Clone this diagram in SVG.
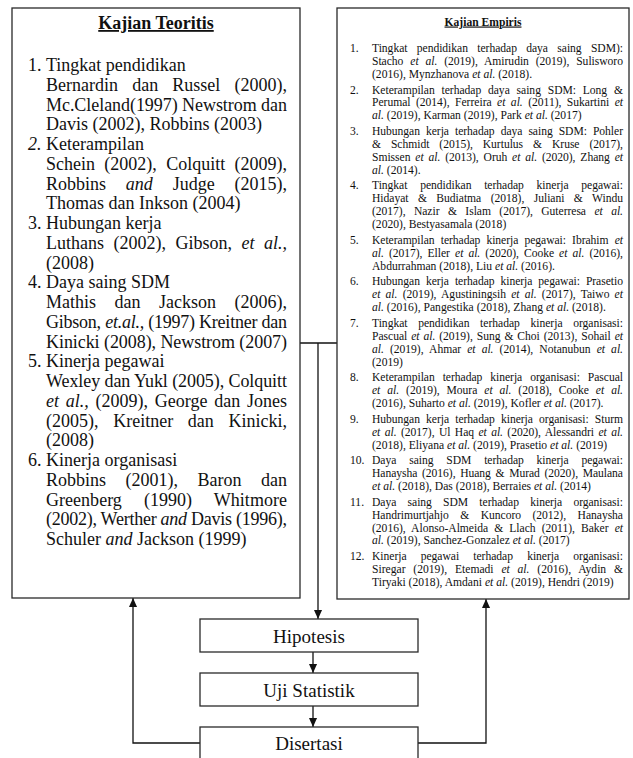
<svg xmlns="http://www.w3.org/2000/svg" width="633" height="758" viewBox="0 0 633 758">
<defs>
<style>
.box{fill:#fff;stroke:#2a2a2a;stroke-width:1.3}
.tl{font-family:"Liberation Serif","Times New Roman",serif;font-size:18px;fill:#111}
.tr{font-family:"Liberation Serif","Times New Roman",serif;font-size:11.6px;fill:#111}
.tf{font-family:"Liberation Serif","Times New Roman",serif;font-size:19px;fill:#111;text-anchor:middle}
.i{font-style:italic}
.hd{font-weight:bold;text-decoration:underline;text-anchor:middle}
.ln{fill:none;stroke:#111;stroke-width:1.3}
</style>
<marker id="arr" viewBox="0 0 10 10" refX="10" refY="5" markerWidth="9" markerHeight="9" markerUnits="userSpaceOnUse" orient="auto"><path d="M0,0.5 L10,5 L0,9.5 z" fill="#111"/></marker>
</defs>
<rect width="633" height="758" fill="#fff"/>

<g id="connectors">
<path class="ln" d="M300,343 H337"/>
<path class="ln" d="M318,343 V619" marker-end="url(#arr)"/>
<path class="ln" d="M313,652 V673" marker-end="url(#arr)"/>
<path class="ln" d="M313,706 V727" marker-end="url(#arr)"/>
<path class="ln" d="M200,743 H133 V598" marker-end="url(#arr)"/>
<path class="ln" d="M418,743 H486 V599" marker-end="url(#arr)"/>
</g>

<g id="node-kajian-teoritis">
<rect class="box" x="12" y="8" width="288" height="590"/>
<text class="tl hd" x="156" y="29">Kajian Teoritis</text>
<text class="tl" y="71"><tspan x="28">1.</tspan><tspan x="46">Tingkat pendidikan</tspan></text>
<text class="tl" x="46" y="90.75" textLength="241" lengthAdjust="spacing" word-spacing="9.7">Bernardin dan Russel (2000),</text>
<text class="tl" x="46" y="110.5" textLength="241" lengthAdjust="spacing">Mc.Cleland(1997) Newstrom dan</text>
<text class="tl" x="46" y="130.25">Davis (2002), Robbins (2003)</text>
<text class="tl" y="150"><tspan x="28" class="i">2.</tspan><tspan x="46">Keterampilan</tspan></text>
<text class="tl" x="46" y="169.75" textLength="241" lengthAdjust="spacing" word-spacing="4.8">Schein (2002), Colquitt (2009),</text>
<text class="tl" x="46" y="189.5" textLength="241" lengthAdjust="spacing" word-spacing="15.3">Robbins <tspan class="i">and</tspan> Judge (2015),</text>
<text class="tl" x="46" y="209.25">Thomas dan Inkson (2004)</text>
<text class="tl" y="229"><tspan x="28">3.</tspan><tspan x="46">Hubungan kerja</tspan></text>
<text class="tl" x="46" y="248.75" textLength="241" lengthAdjust="spacing" word-spacing="5">Luthans (2002), Gibson, <tspan class="i">et al.,</tspan></text>
<text class="tl" x="46" y="268.5">(2008)</text>
<text class="tl" y="288.25"><tspan x="28">4.</tspan><tspan x="46">Daya saing SDM</tspan></text>
<text class="tl" x="46" y="308" textLength="241" lengthAdjust="spacing" word-spacing="14">Mathis dan Jackson (2006),</text>
<text class="tl" x="46" y="327.75" textLength="241" lengthAdjust="spacing">Gibson, <tspan class="i">et.al.,</tspan> (1997) Kreitner dan</text>
<text class="tl" x="46" y="347.5" textLength="241" lengthAdjust="spacing">Kinicki (2008), Newstrom (2007)</text>
<text class="tl" y="367.25"><tspan x="28">5.</tspan><tspan x="46">Kinerja pegawai</tspan></text>
<text class="tl" x="46" y="387" textLength="241" lengthAdjust="spacing">Wexley dan Yukl (2005), Colquitt</text>
<text class="tl" x="46" y="406.75" textLength="241" lengthAdjust="spacing" word-spacing="2.2"><tspan class="i">et al.,</tspan> (2009), George dan Jones</text>
<text class="tl" x="46" y="426.5" textLength="241" lengthAdjust="spacing" word-spacing="10.2">(2005), Kreitner dan Kinicki,</text>
<text class="tl" x="46" y="446.25">(2008)</text>
<text class="tl" y="466"><tspan x="28">6.</tspan><tspan x="46">Kinerja organisasi</tspan></text>
<text class="tl" x="46" y="485.75" textLength="241" lengthAdjust="spacing" word-spacing="15">Robbins (2001), Baron dan</text>
<text class="tl" x="46" y="505.5" textLength="241" lengthAdjust="spacing" word-spacing="17.5">Greenberg (1990) Whitmore</text>
<text class="tl" x="46" y="525.25" textLength="241" lengthAdjust="spacing">(2002), Werther <tspan class="i">and</tspan> Davis (1996),</text>
<text class="tl" x="46" y="545">Schuler <tspan class="i">and</tspan> Jackson (1999)</text>
</g>

<g id="node-kajian-empiris">
<rect class="box" x="337" y="8" width="292" height="591"/>
<text class="tr hd" x="483" y="25.5">Kajian Empiris</text>
<g class="tr">
<text x="350" y="52">1.</text>
<text x="372" y="52" textLength="251" lengthAdjust="spacing" word-spacing="6.4">Tingkat pendidikan terhadap daya saing SDM):</text>
<text x="372" y="64.9" textLength="251" lengthAdjust="spacing" word-spacing="4">Stacho <tspan class="i">et al.</tspan> (2019), Amirudin (2019), Sulisworo</text>
<text x="372" y="77.8">(2016), Mynzhanova <tspan class="i">et al.</tspan> (2018).</text>
<text x="350" y="93.5">2.</text>
<text x="372" y="93.5" textLength="251" lengthAdjust="spacing" word-spacing="4">Keterampilan terhadap daya saing SDM: Long &amp;</text>
<text x="372" y="106.4" textLength="251" lengthAdjust="spacing" word-spacing="2.6">Perumal (2014), Ferreira <tspan class="i">et al.</tspan> (2011), Sukartini <tspan class="i">et</tspan></text>
<text x="372" y="119.3"><tspan class="i">al.</tspan> (2019), Karman (2019), Park <tspan class="i">et al.</tspan> (2017)</text>
<text x="350" y="135">3.</text>
<text x="372" y="135" textLength="251" lengthAdjust="spacing" word-spacing="3.2">Hubungan kerja terhadap daya saing SDM: Pohler</text>
<text x="372" y="147.9" textLength="251" lengthAdjust="spacing" word-spacing="7.1">&amp; Schmidt (2015), Kurtulus &amp; Kruse (2017),</text>
<text x="372" y="160.8" textLength="251" lengthAdjust="spacing" word-spacing="2">Smissen <tspan class="i">et al.</tspan> (2013), Oruh <tspan class="i">et al.</tspan> (2020), Zhang <tspan class="i">et</tspan></text>
<text x="372" y="173.7"><tspan class="i">al.</tspan> (2014).</text>
<text x="350" y="189.4">4.</text>
<text x="372" y="189.4" textLength="251" lengthAdjust="spacing" word-spacing="9.9">Tingkat pendidikan terhadap kinerja pegawai:</text>
<text x="372" y="202.3" textLength="251" lengthAdjust="spacing" word-spacing="6.5">Hidayat &amp; Budiatma (2018), Juliani &amp; Windu</text>
<text x="372" y="215.2" textLength="251" lengthAdjust="spacing" word-spacing="5.6">(2017), Nazir &amp; Islam (2017), Guterresa <tspan class="i">et al.</tspan></text>
<text x="372" y="228.1">(2020), Bestyasamala (2018)</text>
<text x="350" y="243.8">5.</text>
<text x="372" y="243.8" textLength="251" lengthAdjust="spacing" word-spacing="3.3">Keterampilan terhadap kinerja pegawai: Ibrahim <tspan class="i">et</tspan></text>
<text x="372" y="256.7" textLength="251" lengthAdjust="spacing" word-spacing="2.2"><tspan class="i">al.</tspan> (2017), Eller <tspan class="i">et al.</tspan> (2020), Cooke <tspan class="i">et al.</tspan> (2016),</text>
<text x="372" y="269.6">Abdurrahman (2018), Liu <tspan class="i">et al.</tspan> (2016).</text>
<text x="350" y="285.3">6.</text>
<text x="372" y="285.3" textLength="251" lengthAdjust="spacing" word-spacing="3.1">Hubungan kerja terhadap kinerja pegawai: Prasetio</text>
<text x="372" y="298.2" textLength="251" lengthAdjust="spacing" word-spacing="2.3"><tspan class="i">et al.</tspan> (2019), Agustiningsih <tspan class="i">et al.</tspan> (2017), Taiwo <tspan class="i">et</tspan></text>
<text x="372" y="311.1"><tspan class="i">al.</tspan> (2016), Pangestika (2018), Zhang <tspan class="i">et al.</tspan> (2018).</text>
<text x="350" y="326.8">7.</text>
<text x="372" y="326.8" textLength="251" lengthAdjust="spacing" word-spacing="7.8">Tingkat pendidikan terhadap kinerja organisasi:</text>
<text x="372" y="339.7" textLength="251" lengthAdjust="spacing" word-spacing="1.1">Pascual <tspan class="i">et al.</tspan> (2019), Sung &amp; Choi (2013), Sohail <tspan class="i">et</tspan></text>
<text x="372" y="352.6" textLength="251" lengthAdjust="spacing" word-spacing="3.2"><tspan class="i">al.</tspan> (2019), Ahmar <tspan class="i">et al.</tspan> (2014), Notanubun <tspan class="i">et al.</tspan></text>
<text x="372" y="365.5">(2019)</text>
<text x="350" y="381.2">8.</text>
<text x="372" y="381.2" textLength="251" lengthAdjust="spacing" word-spacing="5.1">Keterampilan terhadap kinerja organisasi: Pascual</text>
<text x="372" y="394.1" textLength="251" lengthAdjust="spacing" word-spacing="4.1"><tspan class="i">et al.</tspan> (2019), Moura <tspan class="i">et al.</tspan> (2018), Cooke <tspan class="i">et al.</tspan></text>
<text x="372" y="407">(2016), Suharto <tspan class="i">et al.</tspan> (2019), Kofler <tspan class="i">et al.</tspan> (2017).</text>
<text x="350" y="422.7">9.</text>
<text x="372" y="422.7" textLength="251" lengthAdjust="spacing" word-spacing="3.3">Hubungan kerja terhadap kinerja organisasi: Sturm</text>
<text x="372" y="435.6" textLength="251" lengthAdjust="spacing" word-spacing="1.5"><tspan class="i">et al.</tspan> (2017), Ul Haq <tspan class="i">et al.</tspan> (2020), Alessandri <tspan class="i">et al.</tspan></text>
<text x="372" y="448.5">(2018), Eliyana <tspan class="i">et al.</tspan> (2019), Prasetio <tspan class="i">et al.</tspan> (2019)</text>
<text x="350" y="464.2">10.</text>
<text x="372" y="464.2" textLength="251" lengthAdjust="spacing" word-spacing="10">Daya saing SDM terhadap kinerja pegawai:</text>
<text x="372" y="477.1" textLength="251" lengthAdjust="spacing" word-spacing="1.8">Hanaysha (2016), Huang &amp; Murad (2020), Maulana</text>
<text x="372" y="490"><tspan class="i">et al.</tspan> (2018), Das (2018), Berraies <tspan class="i">et al.</tspan> (2014)</text>
<text x="350" y="505.7">11.</text>
<text x="372" y="505.7" textLength="251" lengthAdjust="spacing" word-spacing="8.4">Daya saing SDM terhadap kinerja organisasi:</text>
<text x="372" y="518.6" textLength="251" lengthAdjust="spacing" word-spacing="8.7">Handrimurtjahjo &amp; Kuncoro (2012), Hanaysha</text>
<text x="372" y="531.5" textLength="251" lengthAdjust="spacing" word-spacing="3.2">(2016), Alonso-Almeida &amp; Llach (2011), Baker <tspan class="i">et</tspan></text>
<text x="372" y="544.4"><tspan class="i">al.</tspan> (2019), Sanchez-Gonzalez <tspan class="i">et al.</tspan> (2017)</text>
<text x="350" y="560.1">12.</text>
<text x="372" y="560.1" textLength="251" lengthAdjust="spacing" word-spacing="11.3">Kinerja pegawai terhadap kinerja organisasi:</text>
<text x="372" y="573" textLength="251" lengthAdjust="spacing" word-spacing="4.9">Siregar (2019), Etemadi <tspan class="i">et al.</tspan> (2016), Aydin &amp;</text>
<text x="372" y="585.9">Tiryaki (2018), Amdani <tspan class="i">et al.</tspan> (2019), Hendri (2019)</text>
</g>
</g>

<g id="node-hipotesis">
<rect class="box" x="200" y="619" width="218" height="33"/>
<text class="tf" x="309" y="643">Hipotesis</text>
</g>
<g id="node-uji-statistik">
<rect class="box" x="200" y="673" width="218" height="33"/>
<text class="tf" x="309" y="697">Uji Statistik</text>
</g>
<g id="node-disertasi">
<rect class="box" x="200" y="727" width="218" height="45"/>
<text class="tf" x="309" y="750">Disertasi</text>
</g>
</svg>
